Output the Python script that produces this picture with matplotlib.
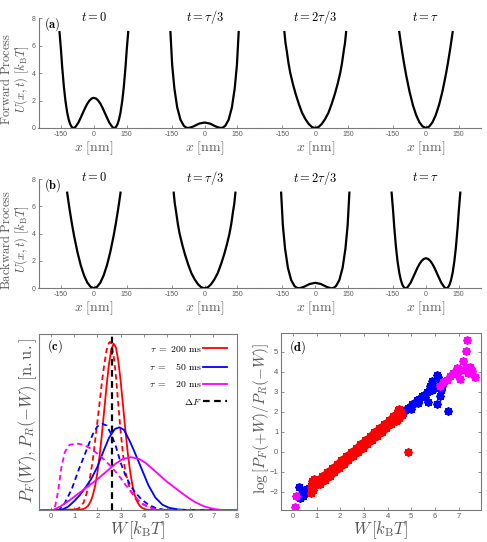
import matplotlib.pyplot as plt
from matplotlib.lines import Line2D

plt.rcParams['mathtext.fontset'] = 'cm'
plt.rcParams['font.family'] = ['Liberation Sans', 'DejaVu Sans']

TXT = '#5a5a5a'
SPINE = '#7a7a7a'

# --- potentials U(x) in kBT, x in nm ---
x_dw = [-157, -150, -145, -137, -130, -122, -115, -108, -100, -93, -85, -70, -55, -40, -30, -20, -10, 0,
        10, 20, 30, 40, 55, 70, 85, 93, 100, 108, 115, 122, 130, 137, 145, 150, 157]
u_dw = [7.0, 5.64, 4.5, 3.01, 2.0, 1.14, 0.62, 0.27, 0.05, 0.0, 0.06, 0.41, 0.93, 1.46, 1.77, 2.0, 2.15, 2.2,
        2.15, 2.0, 1.77, 1.46, 0.93, 0.41, 0.06, 0.0, 0.05, 0.27, 0.62, 1.14, 2.0, 3.01, 4.5, 5.64, 7.0]

x_sw = [-156, -148, -138, -125, -110, -95, -85, -75, -62, -50, -25, 0, 25, 50, 62, 75, 85, 95, 110, 125, 138, 148, 156]
u_sw = [7.0, 4.6, 2.9, 1.5, 0.6, 0.17, 0.04, 0.0, 0.05, 0.12, 0.32, 0.40, 0.32, 0.12, 0.05, 0.0, 0.04, 0.17, 0.6, 1.5, 2.9, 4.6, 7.0]

x_wide = [-141, -136, -130, -122, -114, -102, -90, -75, -60, -45, -30, -15, 0, 15, 30, 45, 60, 75, 90, 102, 114, 122, 130, 136, 141]
u_wide = [7.0, 6.2, 5.6, 4.7, 4.0, 3.2, 2.5, 1.75, 1.1, 0.65, 0.3, 0.07, 0.0, 0.07, 0.3, 0.65, 1.1, 1.75, 2.5, 3.2, 4.0, 4.7, 5.6, 6.2, 7.0]

x_narrow = [-122, -116, -110, -100, -90, -75, -60, -45, -30, -15, 0, 15, 30, 45, 60, 75, 90, 100, 110, 116, 122]
u_narrow = [7.0, 6.33, 5.69, 4.70, 3.81, 2.65, 1.69, 0.95, 0.42, 0.11, 0.0, 0.11, 0.42, 0.95, 1.69, 2.65, 3.81, 4.70, 5.69, 6.33, 7.0]

titles = [r'$t = 0$', r'$t = \tau/3$', r'$t = 2\tau/3$', r'$t = \tau$']
forward = [(x_dw, u_dw), (x_sw, u_sw), (x_wide, u_wide), (x_narrow, u_narrow)]
backward = [(x_narrow, u_narrow), (x_wide, u_wide), (x_sw, u_sw), (x_dw, u_dw)]

# --- work distributions, panel (c) ---
dF = 2.63
W_red_f = [-0.5, 1.3, 1.4, 1.5, 1.6, 1.7, 1.8, 1.9, 2.0, 2.1, 2.2, 2.3, 2.4, 2.5, 2.6, 2.7, 2.8, 2.9,
           3.0, 3.1, 3.2, 3.3, 3.4, 3.5, 3.6, 3.7, 3.8, 3.9, 4.0, 4.1, 4.2, 8.0]
P_red_f = [0, 0.003, 0.006, 0.012, 0.024, 0.046, 0.081, 0.135, 0.211, 0.312, 0.437, 0.573, 0.710, 0.829,
           0.912, 0.945, 0.923, 0.849, 0.736, 0.601, 0.463, 0.335, 0.229, 0.147, 0.089, 0.051, 0.028,
           0.014, 0.007, 0.003, 0, 0]
W_red_r = [-0.5, 1.0, 1.2, 1.4, 1.6, 1.8, 2.0, 2.2, 2.3, 2.4, 2.5, 2.55, 2.6, 2.7, 2.8, 2.9, 3.0, 3.1,
           3.2, 3.4, 3.6, 3.8, 4.0, 4.3, 4.6, 4.9, 8.0]
P_red_r = [0, 0, 0.01, 0.04, 0.12, 0.28, 0.50, 0.73, 0.83, 0.91, 0.95, 0.955, 0.945, 0.88, 0.76, 0.60,
           0.45, 0.32, 0.22, 0.12, 0.07, 0.045, 0.03, 0.015, 0.005, 0, 0]
W_blue_f = [-0.5, 0.3, 0.5, 0.75, 1.0, 1.25, 1.5, 1.75, 2.0, 2.25, 2.5, 2.75, 2.95, 3.15, 3.4, 3.6,
            3.9, 4.2, 4.5, 4.8, 5.1, 5.5, 5.9, 8.0]
P_blue_f = [0, 0, 0.003, 0.02, 0.05, 0.085, 0.13, 0.18, 0.245, 0.33, 0.41, 0.46, 0.47, 0.455, 0.39,
            0.33, 0.235, 0.14, 0.07, 0.03, 0.012, 0.003, 0, 0]
W_blue_r = [-0.5, 0.35, 0.6, 0.9, 1.2, 1.5, 1.8, 2.0, 2.2, 2.4, 2.6, 2.8, 3.0, 3.2, 3.4, 3.6, 3.9,
            4.2, 4.5, 4.9, 8.0]
P_blue_r = [0, 0, 0.04, 0.12, 0.23, 0.33, 0.43, 0.475, 0.49, 0.48, 0.43, 0.36, 0.27, 0.2, 0.145,
            0.105, 0.06, 0.03, 0.012, 0, 0]
W_mag_f = [-0.5, 0.1, 0.4, 0.8, 1.2, 1.6, 2.0, 2.4, 2.8, 3.1, 3.45, 3.8, 4.1, 4.4, 4.7, 5.0, 5.4,
           5.8, 6.2, 6.6, 7.0, 7.4, 8.0]
P_mag_f = [0, 0, 0.02, 0.055, 0.095, 0.135, 0.175, 0.22, 0.265, 0.29, 0.30, 0.29, 0.265, 0.23, 0.195,
           0.16, 0.12, 0.08, 0.045, 0.02, 0.006, 0, 0]
W_mag_r = [-0.5, 0.15, 0.3, 0.45, 0.6, 0.8, 1.1, 1.4, 1.7, 2.0, 2.3, 2.6, 2.9, 3.2, 3.5, 3.8, 4.1,
           4.4, 4.8, 8.0]
P_mag_r = [0, 0, 0.1, 0.24, 0.33, 0.37, 0.378, 0.37, 0.35, 0.32, 0.285, 0.245, 0.2, 0.145, 0.095,
           0.05, 0.022, 0.008, 0, 0]

# --- Crooks test, panel (d) ---
Wd_red = [0.75, 0.78, 0.8, 0.85, 0.9, 0.92, 0.95,
          1.0, 1.1, 1.2, 1.3, 1.4, 1.5, 1.6, 1.7, 1.8, 1.9, 2.0, 2.1, 2.2, 2.3, 2.4, 2.5, 2.6, 2.7,
          2.8, 2.9, 3.0, 3.1, 3.2, 3.3, 3.4, 3.5, 3.6, 3.7, 3.8, 3.9, 4.0, 4.1, 4.2, 4.3,
          1.05, 1.15, 1.25, 1.35, 1.45, 1.55, 1.65, 1.75, 1.85, 1.95, 2.05, 2.15, 2.25, 2.35, 2.45,
          2.55, 2.65, 2.75, 2.85, 2.95, 3.05, 3.15, 3.25, 3.35, 3.45, 3.55, 3.65, 3.75, 3.85, 3.95,
          4.05, 4.15, 4.25,
          4.35, 4.4, 4.45, 4.5, 4.55, 4.6, 4.5, 4.4, 4.85]
Ld_red = [-2.05, -1.75, -1.45, -1.9, -1.35, -1.65, -1.55,
          -1.58, -1.52, -1.37, -1.32, -1.18, -1.12, -0.98, -0.93, -0.78, -0.72, -0.58, -0.53, -0.38,
          -0.32, -0.18, -0.12, 0.02, 0.07, 0.22, 0.28, 0.42, 0.47, 0.62, 0.68, 0.82, 0.87, 1.02,
          1.08, 1.22, 1.27, 1.42, 1.48, 1.62, 1.67,
          -1.40, -1.62, -1.22, -1.42, -1.02, -1.22, -0.82, -1.02, -0.62, -0.82, -0.42, -0.62, -0.22,
          -0.42, -0.02, -0.22, 0.18, -0.02, 0.38, 0.18, 0.58, 0.38, 0.78, 0.58, 0.98, 0.78, 1.18,
          0.98, 1.38, 1.18, 1.58, 1.38, 1.78,
          1.55, 1.9, 2.1, 1.7, 2.0, 1.85, 2.15, 1.6, 0.0]
Wd_blue = [0.25, 0.3, 0.35, 0.4, 0.45, 0.5, 0.55, 0.6, 0.65, 0.7, 0.75,
           4.55, 4.65, 4.75, 4.85, 4.95, 5.05, 5.15, 5.25, 5.35, 5.45, 5.55, 5.65, 5.75, 5.0, 5.3,
           5.6, 5.8, 5.86, 5.9, 6.0, 6.1, 6.14, 6.2, 6.25, 6.2, 6.1, 6.57, 5.79, 6.3, 5.72]
Ld_blue = [-1.75, -2.3, -2.2, -2.05, -2.2, -1.95, -2.05, -1.85, -1.95, -1.8, -1.7,
           1.85, 1.95, 2.1, 2.2, 2.25, 2.4, 2.45, 2.6, 2.65, 2.8, 2.85, 3.0, 3.05, 2.15, 2.45,
           2.75, 3.3, 3.56, 3.1, 3.2, 3.85, 3.75, 3.45, 3.1, 2.82, 2.4, 2.07, 3.15, 3.3, 2.52]
Wd_mag = [0.1, 0.15, 6.22, 6.36, 6.64, 6.78, 6.95, 7.06, 7.2, 7.32, 7.37, 7.42, 7.49, 7.56, 7.7,
          6.5, 6.9, 7.1, 7.3]
Ld_mag = [-2.75, -2.2, 3.31, 3.48, 3.81, 3.97, 4.22, 3.65, 4.56, 5.05, 5.6, 3.97, 4.27, 4.06, 3.73,
          3.6, 3.9, 4.1, 4.2]

RED, BLUE, MAG = '#ff0000', '#0000ff', '#ff00ff'

W_FIG, H_FIG = 487, 542
fig = plt.figure(figsize=(W_FIG / 100, H_FIG / 100), dpi=100)


def px_axes(l, t, r, b):
    return fig.add_axes([l / W_FIG, 1 - b / H_FIG, (r - l) / W_FIG, (b - t) / H_FIG])


def style_ticks(ax, size=5):
    ax.tick_params(direction='in', length=2.5, width=0.6, color=SPINE,
                   labelcolor=TXT, labelsize=size, pad=2)
    for s in ax.spines.values():
        s.set_color(SPINE)
        s.set_linewidth(0.8)


# rows (a) and (b)
rows = [(18.3, 128.0, forward, '(a)', r'$\mathrm{Forward\ Process}$'),
        (179.0, 288.3, backward, '(b)', r'$\mathrm{Backward\ Process}$')]
for top, bot, shapes, tag, rowname in rows:
    h = bot - top
    for i, (xs, us) in enumerate(shapes):
        left = 38.5 + i * 110.7
        ax = px_axes(left, top, left + 110.7, bot)
        ax.patch.set_visible(False)
        ax.plot(xs, us, color='k', lw=1.6)
        ax.set_xlim(-253, 253)
        ax.set_ylim(0, 8)
        ax.set_xticks([-150, 0, 150])
        ax.set_xticklabels(['-150', '0', '150'])
        style_ticks(ax)
        ax.spines['top'].set_visible(False)
        ax.spines['right'].set_visible(False)
        if i == 0:
            ax.set_yticks([0, 2, 4, 6, 8])
            ax.text(0.05, 1 - 6 / h, r'$\mathbf{' + tag + '}$', transform=ax.transAxes,
                    fontsize=9, ha='left', va='center')
        else:
            ax.spines['left'].set_visible(False)
            ax.set_yticks([])
        ax.text(0.5, 1 + 1.3 / h, titles[i], transform=ax.transAxes, fontsize=9,
                ha='center', va='center')
        ax.text(0.5, -20 / h, r'$x\ [\mathrm{nm}]$', transform=ax.transAxes, fontsize=10,
                color=TXT, ha='center', va='center')
    yc = 1 - (top + bot + 12) / 2 / H_FIG
    fig.text(6.5 / W_FIG, yc, rowname, rotation=90, fontsize=9, color=TXT, ha='center', va='center')
    fig.text(22 / W_FIG, yc, r'$U(x,t)\ [k_\mathrm{B}T]$', rotation=90, fontsize=9,
             color=TXT, ha='center', va='center')

# panel (c)
axc = px_axes(39.3, 334, 236.7, 510)
ls_d = (0, (3, 2))
axc.plot(W_red_r, P_red_r, color=RED, lw=1.3, ls=ls_d)
axc.plot(W_red_f, P_red_f, color=RED, lw=1.3)
axc.plot(W_blue_r, P_blue_r, color=BLUE, lw=1.3, ls=ls_d)
axc.plot(W_blue_f, P_blue_f, color=BLUE, lw=1.3)
axc.plot(W_mag_r, P_mag_r, color=MAG, lw=1.3, ls=ls_d)
axc.plot(W_mag_f, P_mag_f, color=MAG, lw=1.3)
axc.axvline(dF, color='k', lw=1.6, ls=ls_d)
axc.set_xlim(-0.5, 8)
axc.set_ylim(0, 1.0)
axc.set_xticks(range(0, 9))
axc.set_yticks([])
style_ticks(axc, 5.5)
axc.tick_params(top=True)
axc.text(0.04, 0.93, r'$\mathbf{(c)}$', transform=axc.transAxes, fontsize=9, ha='left', va='center')
handles = [Line2D([], [], color=RED, lw=1.3), Line2D([], [], color=BLUE, lw=1.3),
           Line2D([], [], color=MAG, lw=1.3), Line2D([], [], color='k', lw=1.6, ls=ls_d)]
labels = [r'$\tau\ =\ 200\ \mathrm{ms}$', r'$\tau\ =\ \ \ 50\ \mathrm{ms}$',
          r'$\tau\ =\ \ \ 20\ \mathrm{ms}$', r'$\Delta F\qquad\ \ $']
axc.legend(handles, labels, loc='upper right', frameon=False, markerfirst=False, fontsize=7,
           handlelength=2.5, handletextpad=0.1, labelspacing=0.75, borderaxespad=0.6)
fig.text(28 / W_FIG, 1 - 420 / H_FIG, r'$P_F(W), P_R(-W)\ [\mathrm{n.u.}]$', rotation=90,
         fontsize=12, color=TXT, ha='center', va='center')
fig.text(138 / W_FIG, 1 - 530 / H_FIG, r'$W\,[k_\mathrm{B}T]$', fontsize=12, color=TXT,
         ha='center', va='center')

# panel (d)
axd = px_axes(281, 333, 481, 510)
mk = (8, 2, 0)
axd.scatter(Wd_blue, Ld_blue, marker=mk, s=22, color=BLUE, linewidths=1.6)
axd.scatter(Wd_mag, Ld_mag, marker=mk, s=22, color=MAG, linewidths=1.6)
axd.scatter(Wd_red, Ld_red, marker=mk, s=22, color=RED, linewidths=1.6)
axd.set_xlim(-0.5, 7.95)
axd.set_ylim(-2.9, 5.95)
axd.set_xticks(range(0, 8))
axd.set_yticks(range(-2, 6))
style_ticks(axd, 5.5)
axd.tick_params(top=True, right=True)
axd.text(0.04, 0.92, r'$\mathbf{(d)}$', transform=axd.transAxes, fontsize=9, ha='left', va='center')
fig.text(261 / W_FIG, 1 - 419 / H_FIG, r'$\log\left[P_F(+W)/P_R(-W)\right]$', rotation=90,
         fontsize=11, color=TXT, ha='center', va='center')
fig.text(381 / W_FIG, 1 - 530 / H_FIG, r'$W\,[k_\mathrm{B}T]$', fontsize=12, color=TXT,
         ha='center', va='center')

fig.savefig('out.png', dpi=100)
